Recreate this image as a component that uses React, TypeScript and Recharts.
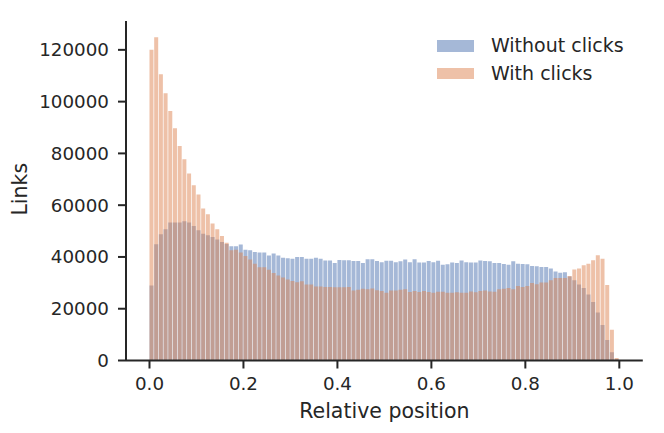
import React from 'react';
import { ComposedChart, Bar, XAxis, YAxis, Legend } from 'recharts';

const FONT = '"DejaVu Sans", "Liberation Sans", sans-serif';
const INK = '#262626';

// Histogram bin centres (relative position, bins of width 0.01)
const binCenters = [
  0.005, 0.015, 0.025, 0.035, 0.045, 0.055, 0.065, 0.075, 0.085, 0.095,
  0.105, 0.115, 0.125, 0.135, 0.145, 0.155, 0.165, 0.175, 0.185, 0.195,
  0.205, 0.215, 0.225, 0.235, 0.245, 0.255, 0.265, 0.275, 0.285, 0.295,
  0.305, 0.315, 0.325, 0.335, 0.345, 0.355, 0.365, 0.375, 0.385, 0.395,
  0.405, 0.415, 0.425, 0.435, 0.445, 0.455, 0.465, 0.475, 0.485, 0.495,
  0.505, 0.515, 0.525, 0.535, 0.545, 0.555, 0.565, 0.575, 0.585, 0.595,
  0.605, 0.615, 0.625, 0.635, 0.645, 0.655, 0.665, 0.675, 0.685, 0.695,
  0.705, 0.715, 0.725, 0.735, 0.745, 0.755, 0.765, 0.775, 0.785, 0.795,
  0.805, 0.815, 0.825, 0.835, 0.845, 0.855, 0.865, 0.875, 0.885, 0.895,
  0.905, 0.915, 0.925, 0.935, 0.945, 0.955, 0.965, 0.975, 0.985, 0.995,
];

const withoutClicks = [
  29000, 44900, 48800, 50700, 53300, 53300, 53300, 53800, 53300, 52000,
  50300, 49000, 48400, 47700, 46700, 45800, 45000, 44100, 44100, 44800,
  42800, 42600, 41900, 41700, 41700, 40600, 41300, 40600, 39700, 39500,
  39300, 40000, 40000, 39300, 39300, 39700, 39300, 38600, 38600, 37700,
  38800, 38700, 38700, 38400, 38400, 37700, 39100, 39100, 38400, 38000,
  38500, 38500, 38000, 38300, 39000, 38000, 39100, 37900, 37900, 38400,
  38000, 38500, 37000, 37200, 37900, 37700, 38600, 38000, 37900, 37900,
  38600, 38400, 38300, 37700, 37700, 37300, 37000, 38300, 37400, 37300,
  37200, 36500, 36400, 36100, 36100, 35500, 34400, 33900, 34100, 32400,
  31000, 29400, 28000, 25500, 22600, 18500, 13700, 7900, 3200, 500,
];

const withClicks = [
  120000, 124900, 110600, 103200, 96400, 89700, 82900, 77700, 72200, 67700,
  64100, 58700, 56500, 52900, 50700, 48100, 45500, 42600, 42800, 41700,
  40400, 39000, 37400, 36000, 36000, 35100, 33800, 32800, 32100, 31300,
  30700, 30200, 30600, 29400, 29400, 28600, 28600, 28400, 28400, 28300,
  28300, 28300, 28400, 27000, 27300, 27700, 27500, 27800, 27100, 26800,
  26200, 27000, 27000, 27300, 27500, 26500, 26800, 26500, 26800, 26500,
  26200, 26600, 26600, 26200, 26200, 26400, 26200, 26200, 26700, 26400,
  26800, 27000, 26700, 26600, 27500, 27700, 28000, 27500, 28800, 28400,
  28800, 29900, 29500, 30100, 30100, 31000, 31900, 31900, 31900, 32600,
  35200, 35500, 36800, 37400, 38700, 40700, 39300, 29200, 11900, 1000,
];

const seriesNames = ['Without clicks', 'With clicks'];
const xTicks = [0, 0.2, 0.4, 0.6, 0.8, 1.0];
const yTicks = [0, 20000, 40000, 60000, 80000, 100000, 120000];

const rows = binCenters.map((x, i) => ({
  x,
  without: withoutClicks[i],
  with: withClicks[i],
}));

function LegendBox(props: any) {
  const payload = [...(props.payload || [])].sort(
    (a: any, b: any) => seriesNames.indexOf(a.value) - seriesNames.indexOf(b.value)
  );
  return (
    <div style={{ fontFamily: FONT, fontSize: 19, color: INK }}>
      {payload.map((p: any) => (
        <div
          key={p.value}
          style={{ display: 'flex', alignItems: 'center', height: 27.7 }}
        >
          <span
            style={{
              flexShrink: 0,
              display: 'block',
              width: 37.6,
              height: 11.7,
              background: p.color,
              opacity: 0.5,
              marginRight: 16.7,
            }}
          />
          <span style={{ whiteSpace: 'nowrap', lineHeight: '27.7px' }}>{p.value}</span>
        </div>
      ))}
    </div>
  );
}

const tickStyle = { fontFamily: FONT, fontSize: 18.3, fill: INK };

export default function App() {
  return (
    <ComposedChart
      width={656}
      height={425}
      data={rows}
      margin={{ top: 13, right: 21.2, bottom: 12.5, left: 8 }}
      barGap={-4}
      barSize={4}
      barCategoryGap={0}
    >
      <XAxis
        dataKey="x"
        type="number"
        domain={[-0.05, 1.05]}
        allowDataOverflow
        ticks={xTicks}
        interval={0}
        tickFormatter={(v: number) => v.toFixed(1)}
        height={60}
        tick={tickStyle}
        tickSize={8}
        tickMargin={9}
        axisLine={{ stroke: INK, strokeWidth: 2 }}
        tickLine={{ stroke: INK, strokeWidth: 2 }}
        label={{
          content: (p: any) => {
            const vb = p.viewBox || {};
            return (
              <text
                x={vb.x + vb.width / 2}
                y={vb.y + 57.2}
                textAnchor="middle"
                style={{ fontFamily: FONT, fontSize: 20.5, fill: INK }}
              >
                Relative position
              </text>
            );
          },
        }}
      />
      <YAxis
        type="number"
        domain={[0, 131145]}
        allowDataOverflow
        ticks={yTicks}
        interval={0}
        width={110}
        tick={tickStyle}
        tickSize={8}
        tickMargin={9}
        axisLine={{ stroke: INK, strokeWidth: 2 }}
        tickLine={{ stroke: INK, strokeWidth: 2 }}
        label={{
          content: (p: any) => {
            const vb = p.viewBox || {};
            const cx = vb.x + 10.7;
            const cy = vb.y + vb.height / 2 - 1.5;
            return (
              <text
                x={cx}
                y={cy}
                transform={`rotate(-90 ${cx} ${cy})`}
                textAnchor="middle"
                style={{ fontFamily: FONT, fontSize: 20.5, fill: INK }}
              >
                Links
              </text>
            );
          },
        }}
      />
      <Legend
        layout="vertical"
        align="center"
        verticalAlign="middle"
        content={<LegendBox />}
        wrapperStyle={{ left: 428.7, top: 24, width: 'auto', margin: 0 }}
      />
      <Bar
        dataKey="without"
        name={seriesNames[0]}
        fill="#4C72B0"
        fillOpacity={0.5}
        isAnimationActive={false}
      />
      <Bar
        dataKey="with"
        name={seriesNames[1]}
        fill="#DD8452"
        fillOpacity={0.5}
        isAnimationActive={false}
      />
    </ComposedChart>
  );
}
